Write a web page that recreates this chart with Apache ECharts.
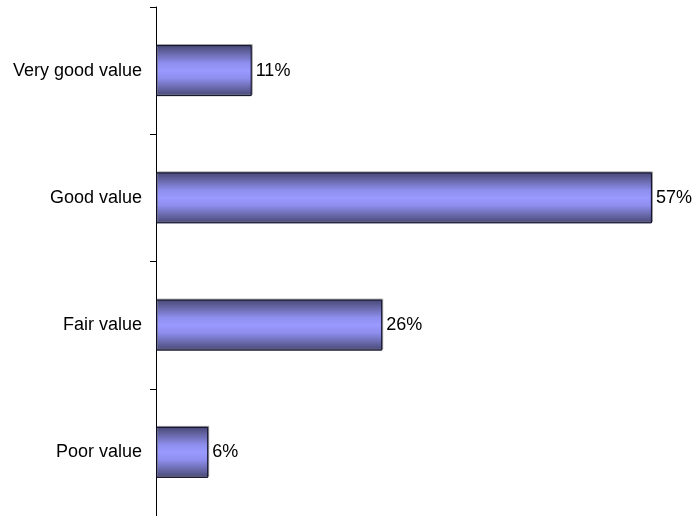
<!DOCTYPE html>
<html>
<head>
<meta charset="utf-8">
<script src="https://cdn.jsdelivr.net/npm/echarts@6/dist/echarts.min.js"></script>
<style>
  html, body { margin: 0; padding: 0; background: #ffffff; }
  #chart { width: 693px; height: 516px; }
</style>
</head>
<body>
<div id="chart"></div>
<script>
// Rating categories, listed top to bottom
const categories = ['Very good value', 'Good value', 'Fair value', 'Poor value'];
// Share of responses per rating, in percent
const shares = [11, 57, 26, 6];

const chart = echarts.init(document.getElementById('chart'), null, { renderer: 'canvas' });

// Cylinder-like shading across each bar's thickness
const barFill = new echarts.graphic.LinearGradient(0, 0, 0, 1, [
  { offset: 0, color: '#474775' },
  { offset: 0.15, color: '#6666a6' },
  { offset: 0.35, color: '#8e8eee' },
  { offset: 0.5, color: '#9999ff' },
  { offset: 0.65, color: '#8e8eee' },
  { offset: 0.85, color: '#6666a6' },
  { offset: 1, color: '#474775' }
]);

const labelFont = '"Liberation Sans", Arial, sans-serif';

chart.setOption({
  animation: false,
  grid: { left: 156, top: 7, width: 522, height: 511, containLabel: false },
  xAxis: {
    type: 'value',
    min: 0,
    max: 60,
    show: false
  },
  yAxis: {
    type: 'category',
    data: categories,
    inverse: true,
    axisLine: { show: true, lineStyle: { color: '#000000', width: 1 } },
    axisTick: { show: true, length: 6, alignWithLabel: false, lineStyle: { color: '#000000' } },
    axisLabel: {
      margin: 14,
      color: '#000000',
      fontFamily: labelFont,
      fontSize: 18
    },
    splitLine: { show: false }
  },
  series: [{
    type: 'bar',
    data: shares,
    barWidth: 51,
    itemStyle: {
      color: barFill,
      borderColor: '#0a0a28',
      borderWidth: 1,
      shadowColor: 'rgba(120,120,120,0.7)',
      shadowBlur: 0,
      shadowOffsetX: 1,
      shadowOffsetY: -1
    },
    label: {
      show: true,
      position: 'right',
      distance: 4,
      formatter: '{c}%',
      color: '#000000',
      fontFamily: labelFont,
      fontSize: 18
    }
  }]
});
</script>
</body>
</html>
